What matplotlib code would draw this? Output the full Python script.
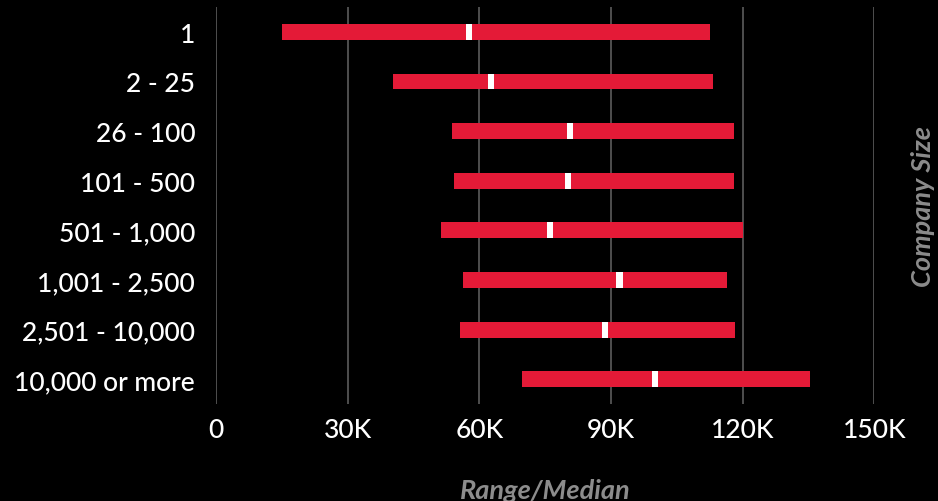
import numpy as np
import matplotlib.pyplot as plt
from matplotlib.ticker import FuncFormatter

# salary range (low / high) and median per company size
sizes = ['1', '2 - 25', '26 - 100', '101 - 500', '501 - 1,000',
         '1,001 - 2,500', '2,501 - 10,000', '10,000 or more']
low = [15000, 40400, 53800, 54300, 51300, 56300, 55600, 69800]
high = [112600, 113300, 117900, 117900, 120100, 116500, 118300, 135400]
median = [57700, 62700, 80700, 80100, 76000, 91900, 88700, 100000]

RED = '#e41a37'
GREY = '#8c8c8c'

plt.rcParams['font.family'] = ['Lato', 'DejaVu Sans']

fig = plt.figure(figsize=(9.38, 5.02), dpi=100, facecolor='black')
ax = fig.add_axes([0.2303, 0.1932, 0.7020, 0.7908], facecolor='black')

y = np.arange(len(sizes))
lo = np.array(low)
hi = np.array(high)
md = np.array(median)

ax.barh(y, hi - lo, left=lo, height=0.32, color=RED, zorder=2)
# median marker: thin white block on top of the range bar
mw = 1400
ax.barh(y, mw, left=md - mw / 2, height=0.32, color='white', zorder=3)

ax.set_xlim(0, 150000)
ax.set_ylim(len(sizes) - 0.5, -0.5)
ax.set_xticks(np.arange(0, 150001, 30000))
ax.xaxis.set_major_formatter(FuncFormatter(lambda v, p: '0' if v == 0 else '%dK' % (v / 1000)))
ax.set_yticks(y)
ax.set_yticklabels(sizes)

ax.grid(axis='x', color='#555555', linewidth=1.3, zorder=0)
for s in ax.spines.values():
    s.set_visible(False)
ax.tick_params(axis='both', length=0, colors='white', labelsize=19)
ax.tick_params(axis='y', pad=15)
ax.tick_params(axis='x', pad=9)
for t in ax.get_xticklabels() + ax.get_yticklabels():
    t.set_fontweight('medium')

ax.set_xlabel('Range/Median', color=GREY, fontsize=19.5, style='italic',
              fontweight='bold', labelpad=26)
ax.yaxis.set_label_position('right')
ax.set_ylabel('Company Size', color=GREY, fontsize=19.5, style='italic',
              fontweight='bold', labelpad=26, rotation=90)

fig.savefig('out.png', dpi=100, facecolor='black')
